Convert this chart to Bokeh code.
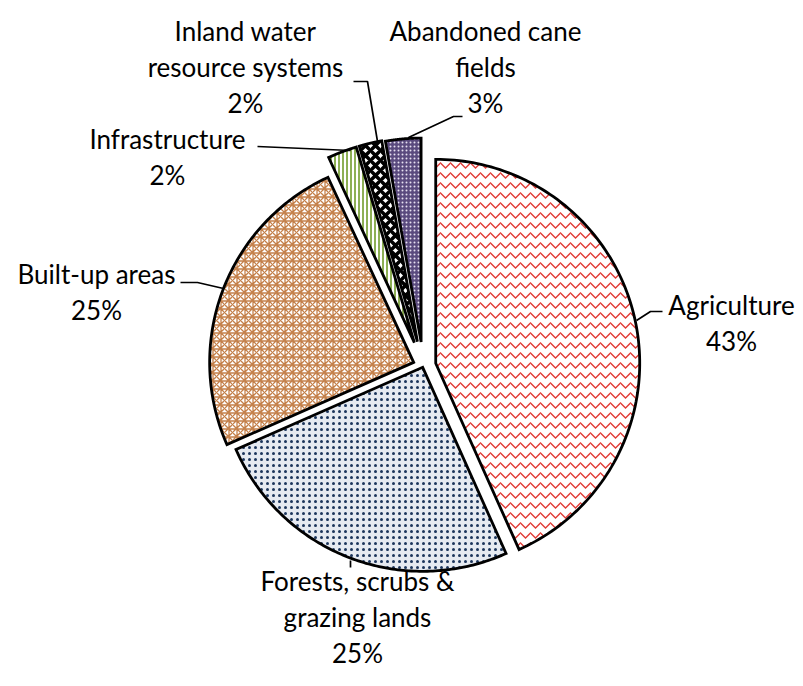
import numpy as np
from bokeh.plotting import figure
from bokeh.models import Range1d
from bokeh.core.properties import value
from bokeh.embed import file_html
from bokeh.resources import INLINE

# ---- data ----
categories = ["Agriculture", "Forests, scrubs & grazing lands", "Built-up areas",
              "Infrastructure", "Inland water resource systems", "Abandoned cane fields"]
shares = [43.3, 25.1, 24.7, 2.3, 1.8, 2.8]
label_lines = [["Agriculture"], ["Forests, scrubs &", "grazing lands"], ["Built-up areas"],
               ["Infrastructure"], ["Inland water", "resource systems"], ["Abandoned cane", "fields"]]

# ---- styles / layout ----
W, H = 795, 678
OX, OY = 0, 0
CX, CY, R = 422.7, 365.5, 204.0
EXPLODE = [12.8, 1.4, 10.2, 25.0, 25.0, 24.0]
STY = [
    dict(fill_color="white", hatch_pattern="horizontal_wave", hatch_color="#E23B36", hatch_scale=10, hatch_weight=1.4),
    dict(fill_color="#E6EAF1", hatch_pattern="dot", hatch_color="#1C355C", hatch_scale=6, hatch_weight=1),
    dict(fill_color="white", hatch_pattern="criss_cross", hatch_color="#C4804A", hatch_scale=8, hatch_weight=1.3),
    dict(fill_color="white", hatch_pattern="vertical_line", hatch_color="#8DAF55", hatch_scale=4, hatch_weight=2),
    dict(fill_color="white", hatch_pattern="diagonal_cross", hatch_color="black", hatch_scale=10, hatch_weight=3.5),
    dict(fill_color="#5A4A7E", hatch_pattern="dot", hatch_color="#E6E0F0", hatch_scale=4, hatch_weight=1),
]
LABEL_MID = [(731, 304), (357, 580), (96, 273), (167, 138), (245, 30), (485, 30)]
LINE_GAP = 36
LEADERS = [
    [(636, 320), (650, 311), (662, 311)],
    [(350, 560), (350, 567)],
    [(180, 282), (197, 282), (223, 288)],
    [(257, 146), (350, 150)],
    [(353, 81), (367, 81), (377, 141)],
    [(408, 137), (453, 116), (462, 116)],
]

p = figure(width=W, height=H, output_backend="svg", toolbar_location=None,
           x_range=Range1d(OX, OX + W), y_range=Range1d(OY + H, OY),
           x_axis_type=None, y_axis_type=None, min_border=0)
p.outline_line_color = None
p.grid.visible = False
p.background_fill_color = "white"
p.border_fill_color = "white"

total = sum(shares)
start = 0.0
for i, v in enumerate(shares):
    a0 = start
    a1 = start + v / total * 2 * np.pi
    start = a1
    mid = (a0 + a1) / 2
    x0 = CX + EXPLODE[i] * np.sin(mid)
    y0 = CY - EXPLODE[i] * np.cos(mid)
    th = np.linspace(a0, a1, 120)
    xs = np.concatenate([[x0], x0 + R * np.sin(th)])
    ys = np.concatenate([[y0], y0 - R * np.cos(th)])
    p.patch(xs, ys, line_color="black", line_width=2.8, line_join="miter", **STY[i])

for pts in LEADERS:
    p.line([q[0] for q in pts], [q[1] for q in pts], line_color="black", line_width=1.7)

for i, v in enumerate(shares):
    lines = label_lines[i] + [f"{round(v / total * 100)}%"]
    lx, ly = LABEL_MID[i]
    for k, t in enumerate(lines):
        p.text(x=[lx], y=[ly + k * LINE_GAP], text=[t], text_align="center",
               text_baseline="middle", text_font=value("Lato"), text_font_size="26px",
               text_color="black")

open("out.html", "w").write(file_html(p, INLINE))
